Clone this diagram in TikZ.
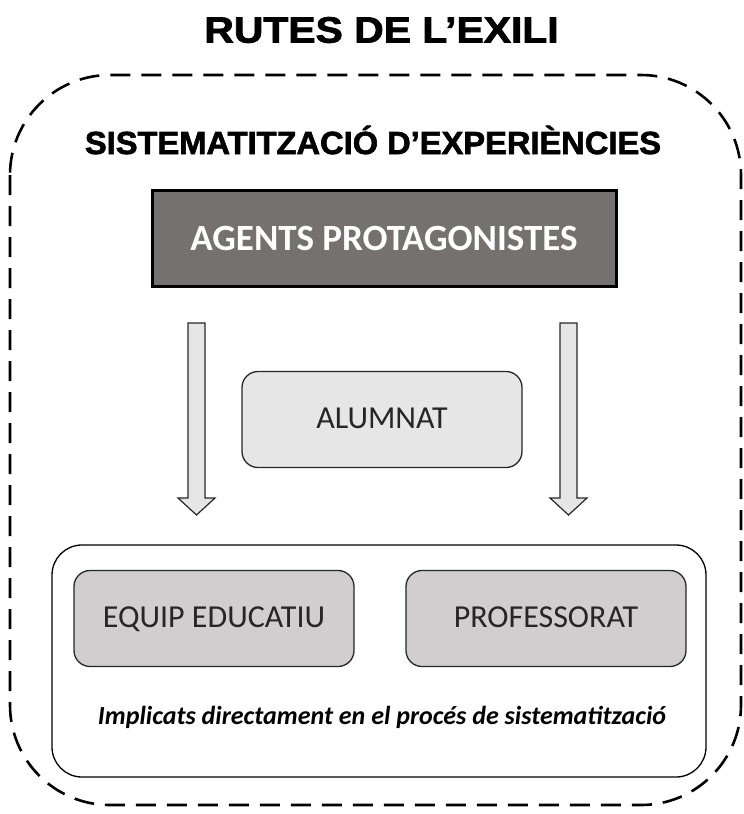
\documentclass[tikz,border=0pt]{standalone}
\usepackage{fontspec}
\setmainfont{Carlito}
\newfontfamily\titlefont[FakeStretch=1.12,FakeBold=2.2]{Liberation Sans Bold}
\newfontfamily\subtitlefont[FakeStretch=1.02,FakeBold=2]{Liberation Sans Bold}
\definecolor{agentgray}{HTML}{767171}
\definecolor{lightgray}{HTML}{E7E6E6}
\definecolor{midgray}{HTML}{D0CECE}
\definecolor{linegray}{HTML}{262626}
\begin{document}
\begin{tikzpicture}[x=1pt,y=-1pt,
  agentbox/.style={draw=black, line width=3pt, fill=agentgray, text=white,
    minimum width=464pt, minimum height=96pt, font=\bfseries\fontsize{37}{40}\selectfont},
  roundbox/.style={draw=linegray, line width=1.3pt, rounded corners=16pt, text=linegray,
    minimum width=280pt, minimum height=96pt, text height=22pt, text depth=5pt,
    font=\fontsize{32}{36}\selectfont},
  groupbox/.style={draw=black, line width=1.3pt, rounded corners=30pt, fill=white,
    minimum width=654pt, minimum height=232pt},
  blockarrow/.style={draw=linegray, line width=1.2pt, fill=lightgray, line join=miter},
  border/.style={draw=black, line width=2.6pt, rounded corners=100pt, dash pattern=on 20pt off 11pt}
]
\useasboundingbox (0,0) rectangle (744,814);
\draw[border] (10,75) rectangle (741,805);
\node[font=\titlefont\fontsize{36.5}{40}\selectfont] (title) at (381.5,30) {RUTES DE L’EXILI};
\node[font=\subtitlefont\fontsize{32}{36}\selectfont] (subtitle) at (373,140) {SISTEMATITZACIÓ D’EXPERIÈNCIES};
\node[agentbox] (agents) at (384,238) {AGENTS PROTAGONISTES};
\node[roundbox, fill=lightgray] (alumnat) at (382,419.5) {ALUMNAT};
\node[groupbox] (group) at (379,661) {};
\node[roundbox, fill=midgray] (equip) at (214,618.5) {EQUIP EDUCATIU};
\node[roundbox, fill=midgray] (prof) at (546,618.5) {PROFESSORAT};
\node[font=\bfseries\itshape\fontsize{26}{30}\selectfont, text=black] (note) at (382,717)
  {Implicats directament en el procés de sistematització};
\draw[blockarrow] (188,323) -- (205,323) -- (205,498) -- (215,498) -- (196.5,515) -- (178,498) -- (188,498) -- cycle;
\draw[blockarrow] (560,323) -- (577,323) -- (577,498) -- (587,498) -- (568.5,515) -- (550,498) -- (560,498) -- cycle;
\end{tikzpicture}
\end{document}
